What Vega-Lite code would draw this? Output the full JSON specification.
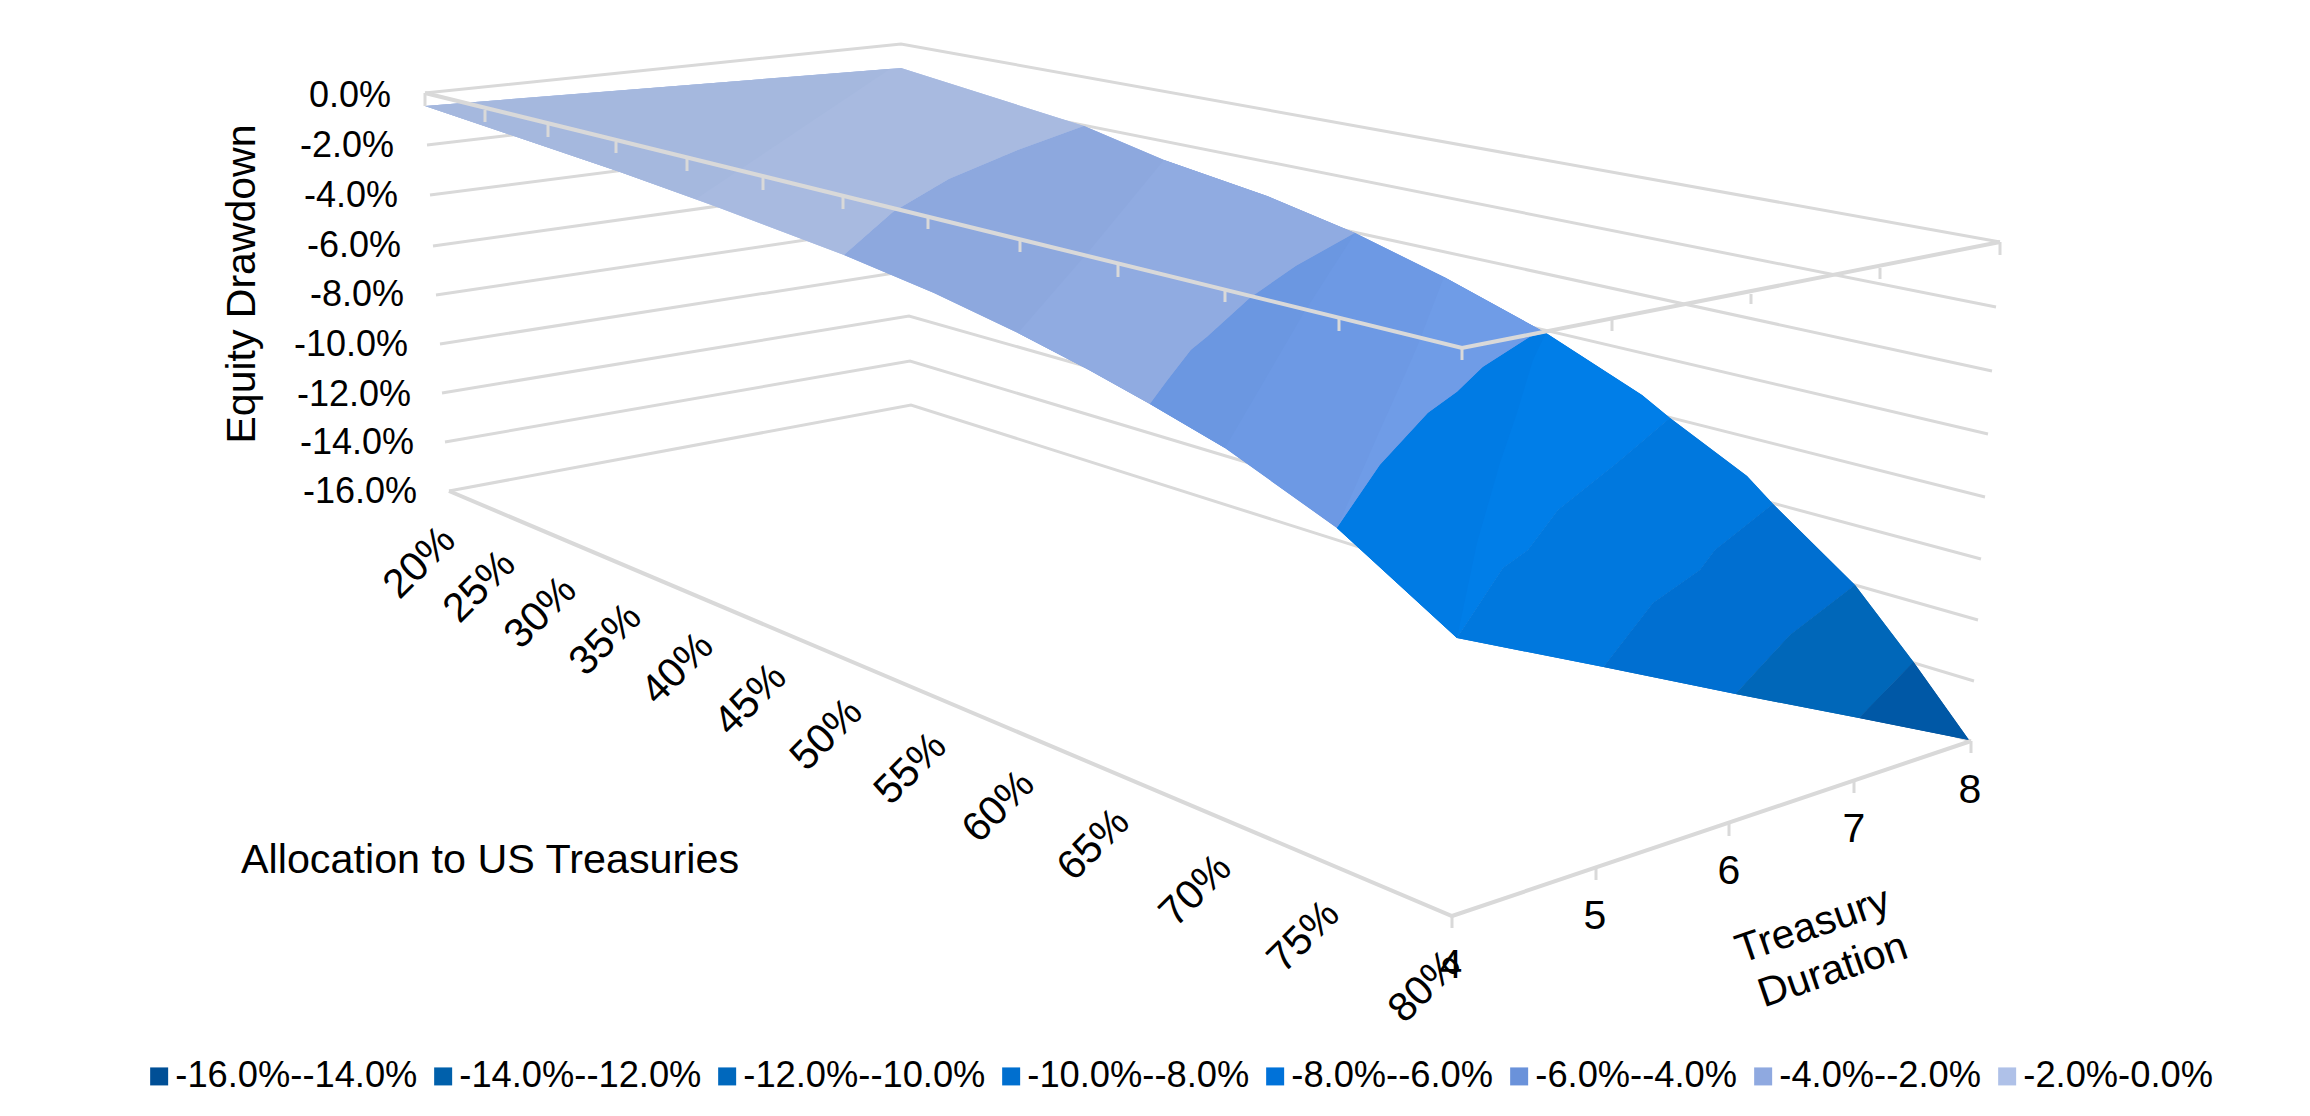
{
  "$schema": "https://vega.github.io/schema/vega-lite/v6.json",
  "width": 2310,
  "height": 1116,
  "padding": 0,
  "autosize": {"type": "none"},
  "background": "white",
  "config": {"view": {"stroke": null}, "font": "Liberation Sans"},
  "resolve": {"scale": {"fill": "independent"}},
  "datasets": {
    "walls": [
      {"level": "0", "i": 0, "x": 425, "y": 93}, {"level": "0", "i": 1, "x": 901, "y": 44}, {"level": "0", "i": 2, "x": 2000, "y": 242},
      {"level": "-2", "i": 0, "x": 427, "y": 145}, {"level": "-2", "i": 1, "x": 902, "y": 89}, {"level": "-2", "i": 2, "x": 1996, "y": 307},
      {"level": "-4", "i": 0, "x": 430, "y": 195}, {"level": "-4", "i": 1, "x": 903, "y": 134}, {"level": "-4", "i": 2, "x": 1992, "y": 371},
      {"level": "-6", "i": 0, "x": 433, "y": 246}, {"level": "-6", "i": 1, "x": 904, "y": 180}, {"level": "-6", "i": 2, "x": 1988, "y": 434},
      {"level": "-8", "i": 0, "x": 436, "y": 295}, {"level": "-8", "i": 1, "x": 906, "y": 225}, {"level": "-8", "i": 2, "x": 1985, "y": 497},
      {"level": "-10", "i": 0, "x": 440, "y": 344}, {"level": "-10", "i": 1, "x": 907, "y": 271}, {"level": "-10", "i": 2, "x": 1981, "y": 559},
      {"level": "-12", "i": 0, "x": 442, "y": 393}, {"level": "-12", "i": 1, "x": 909, "y": 316}, {"level": "-12", "i": 2, "x": 1978, "y": 620},
      {"level": "-14", "i": 0, "x": 445, "y": 442}, {"level": "-14", "i": 1, "x": 910, "y": 361}, {"level": "-14", "i": 2, "x": 1974, "y": 681},
      {"level": "-16", "i": 0, "x": 449, "y": 491}, {"level": "-16", "i": 1, "x": 911, "y": 405}, {"level": "-16", "i": 2, "x": 1971, "y": 741}
    ],
    "frame": [
      {"edge": "top", "i": 0, "x": 425, "y": 93}, {"edge": "top", "i": 1, "x": 1462, "y": 348}, {"edge": "top", "i": 2, "x": 2000, "y": 242},
      {"edge": "floor", "i": 0, "x": 449, "y": 491}, {"edge": "floor", "i": 1, "x": 1452, "y": 916}, {"edge": "floor", "i": 2, "x": 1971, "y": 741}
    ],
    "ticks": [
      {"x": 425, "y": 93, "y2": 106}, {"x": 485, "y": 110, "y2": 122}, {"x": 548, "y": 125, "y2": 137}, {"x": 616, "y": 142, "y2": 153},
      {"x": 687, "y": 158, "y2": 171}, {"x": 763, "y": 178, "y2": 190}, {"x": 843, "y": 197, "y2": 209}, {"x": 928, "y": 217, "y2": 229},
      {"x": 1020, "y": 240, "y2": 252}, {"x": 1118, "y": 264, "y2": 277}, {"x": 1225, "y": 291, "y2": 302}, {"x": 1339, "y": 319, "y2": 331},
      {"x": 1462, "y": 348, "y2": 360}, {"x": 1612, "y": 320, "y2": 331}, {"x": 1751, "y": 294, "y2": 304}, {"x": 1880, "y": 268, "y2": 279},
      {"x": 2000, "y": 242, "y2": 255}, {"x": 1452, "y": 916, "y2": 928}, {"x": 1596, "y": 869, "y2": 880}, {"x": 1729, "y": 823, "y2": 836},
      {"x": 1854, "y": 782, "y2": 793}, {"x": 1971, "y": 741, "y2": 753}
    ],
    "surface": [
      {"band": "-2.0%-0.0%", "i": 0, "x": 425, "y": 106}, {"band": "-2.0%-0.0%", "i": 1, "x": 901, "y": 68}, {"band": "-2.0%-0.0%", "i": 2, "x": 1084, "y": 126},
      {"band": "-2.0%-0.0%", "i": 3, "x": 1018, "y": 150}, {"band": "-2.0%-0.0%", "i": 4, "x": 949, "y": 179}, {"band": "-2.0%-0.0%", "i": 5, "x": 893, "y": 212},
      {"band": "-2.0%-0.0%", "i": 6, "x": 844, "y": 255}, {"band": "-2.0%-0.0%", "i": 7, "x": 717, "y": 207}, {"band": "-2.0%-0.0%", "i": 8, "x": 620, "y": 172},

      {"band": "-4.0%--2.0%", "i": 0, "x": 1084, "y": 126}, {"band": "-4.0%--2.0%", "i": 1, "x": 1164, "y": 160}, {"band": "-4.0%--2.0%", "i": 2, "x": 1267, "y": 196},
      {"band": "-4.0%--2.0%", "i": 3, "x": 1355, "y": 233}, {"band": "-4.0%--2.0%", "i": 4, "x": 1296, "y": 266}, {"band": "-4.0%--2.0%", "i": 5, "x": 1250, "y": 298},
      {"band": "-4.0%--2.0%", "i": 6, "x": 1207, "y": 337}, {"band": "-4.0%--2.0%", "i": 7, "x": 1191, "y": 350}, {"band": "-4.0%--2.0%", "i": 8, "x": 1167, "y": 381},
      {"band": "-4.0%--2.0%", "i": 9, "x": 1150, "y": 404}, {"band": "-4.0%--2.0%", "i": 10, "x": 1089, "y": 370}, {"band": "-4.0%--2.0%", "i": 11, "x": 1018, "y": 333},
      {"band": "-4.0%--2.0%", "i": 12, "x": 934, "y": 293}, {"band": "-4.0%--2.0%", "i": 13, "x": 844, "y": 255}, {"band": "-4.0%--2.0%", "i": 14, "x": 893, "y": 212},
      {"band": "-4.0%--2.0%", "i": 15, "x": 949, "y": 179}, {"band": "-4.0%--2.0%", "i": 16, "x": 1018, "y": 150},

      {"band": "-6.0%--4.0%", "i": 0, "x": 1355, "y": 233}, {"band": "-6.0%--4.0%", "i": 1, "x": 1444, "y": 277}, {"band": "-6.0%--4.0%", "i": 2, "x": 1546, "y": 333},
      {"band": "-6.0%--4.0%", "i": 3, "x": 1530, "y": 337}, {"band": "-6.0%--4.0%", "i": 4, "x": 1483, "y": 367}, {"band": "-6.0%--4.0%", "i": 5, "x": 1457, "y": 392},
      {"band": "-6.0%--4.0%", "i": 6, "x": 1428, "y": 413}, {"band": "-6.0%--4.0%", "i": 7, "x": 1380, "y": 465},
      {"band": "-6.0%--4.0%", "i": 8, "x": 1337, "y": 528}, {"band": "-6.0%--4.0%", "i": 9, "x": 1225, "y": 448}, {"band": "-6.0%--4.0%", "i": 10, "x": 1150, "y": 404},
      {"band": "-6.0%--4.0%", "i": 11, "x": 1167, "y": 381}, {"band": "-6.0%--4.0%", "i": 12, "x": 1191, "y": 350}, {"band": "-6.0%--4.0%", "i": 13, "x": 1207, "y": 337},
      {"band": "-6.0%--4.0%", "i": 14, "x": 1250, "y": 298}, {"band": "-6.0%--4.0%", "i": 15, "x": 1296, "y": 266},

      {"band": "-8.0%--6.0%", "i": 0, "x": 1530, "y": 337}, {"band": "-8.0%--6.0%", "i": 1, "x": 1546, "y": 333}, {"band": "-8.0%--6.0%", "i": 2, "x": 1642, "y": 395},
      {"band": "-8.0%--6.0%", "i": 3, "x": 1670, "y": 418}, {"band": "-8.0%--6.0%", "i": 4, "x": 1617, "y": 463}, {"band": "-8.0%--6.0%", "i": 5, "x": 1558, "y": 510},
      {"band": "-8.0%--6.0%", "i": 6, "x": 1528, "y": 550}, {"band": "-8.0%--6.0%", "i": 7, "x": 1503, "y": 568}, {"band": "-8.0%--6.0%", "i": 8, "x": 1457, "y": 638},
      {"band": "-8.0%--6.0%", "i": 9, "x": 1337, "y": 528}, {"band": "-8.0%--6.0%", "i": 10, "x": 1380, "y": 465}, {"band": "-8.0%--6.0%", "i": 11, "x": 1428, "y": 413},
      {"band": "-8.0%--6.0%", "i": 12, "x": 1457, "y": 392}, {"band": "-8.0%--6.0%", "i": 13, "x": 1483, "y": 367},

      {"band": "-10.0%--8.0%", "i": 0, "x": 1670, "y": 418}, {"band": "-10.0%--8.0%", "i": 1, "x": 1747, "y": 476}, {"band": "-10.0%--8.0%", "i": 2, "x": 1773, "y": 504},
      {"band": "-10.0%--8.0%", "i": 3, "x": 1715, "y": 550}, {"band": "-10.0%--8.0%", "i": 4, "x": 1700, "y": 570}, {"band": "-10.0%--8.0%", "i": 5, "x": 1653, "y": 603},
      {"band": "-10.0%--8.0%", "i": 6, "x": 1603.5, "y": 667}, {"band": "-10.0%--8.0%", "i": 7, "x": 1457, "y": 638}, {"band": "-10.0%--8.0%", "i": 8, "x": 1503, "y": 568},
      {"band": "-10.0%--8.0%", "i": 9, "x": 1528, "y": 550}, {"band": "-10.0%--8.0%", "i": 10, "x": 1558, "y": 510}, {"band": "-10.0%--8.0%", "i": 11, "x": 1617, "y": 463},

      {"band": "-12.0%--10.0%", "i": 0, "x": 1773, "y": 504}, {"band": "-12.0%--10.0%", "i": 1, "x": 1855, "y": 585}, {"band": "-12.0%--10.0%", "i": 2, "x": 1790, "y": 635},
      {"band": "-12.0%--10.0%", "i": 3, "x": 1735.5, "y": 694}, {"band": "-12.0%--10.0%", "i": 4, "x": 1603.5, "y": 667}, {"band": "-12.0%--10.0%", "i": 5, "x": 1653, "y": 603},
      {"band": "-12.0%--10.0%", "i": 6, "x": 1700, "y": 570}, {"band": "-12.0%--10.0%", "i": 7, "x": 1715, "y": 550},

      {"band": "-14.0%--12.0%", "i": 0, "x": 1855, "y": 585}, {"band": "-14.0%--12.0%", "i": 1, "x": 1913.5, "y": 662}, {"band": "-14.0%--12.0%", "i": 2, "x": 1859, "y": 718},
      {"band": "-14.0%--12.0%", "i": 3, "x": 1735.5, "y": 694}, {"band": "-14.0%--12.0%", "i": 4, "x": 1790, "y": 635},

      {"band": "-16.0%--14.0%", "i": 0, "x": 1913.5, "y": 662}, {"band": "-16.0%--14.0%", "i": 1, "x": 1969, "y": 740}, {"band": "-16.0%--14.0%", "i": 2, "x": 1859, "y": 718}
    ],
    "facets": [
      {"facet": "a", "i": 0, "x": 425, "y": 106}, {"facet": "a", "i": 1, "x": 890, "y": 69}, {"facet": "a", "i": 2, "x": 696, "y": 199}, {"facet": "a", "i": 3, "x": 620, "y": 172},

      {"facet": "b", "i": 0, "x": 1164, "y": 160}, {"facet": "b", "i": 1, "x": 1267, "y": 196}, {"facet": "b", "i": 2, "x": 1355, "y": 233}, {"facet": "b", "i": 3, "x": 1296, "y": 266},
      {"facet": "b", "i": 4, "x": 1250, "y": 298}, {"facet": "b", "i": 5, "x": 1207, "y": 337}, {"facet": "b", "i": 6, "x": 1191, "y": 350}, {"facet": "b", "i": 7, "x": 1167, "y": 381},
      {"facet": "b", "i": 8, "x": 1150, "y": 404}, {"facet": "b", "i": 9, "x": 1089, "y": 370}, {"facet": "b", "i": 10, "x": 1018, "y": 333}, {"facet": "b", "i": 11, "x": 1090, "y": 250},

      {"facet": "c", "i": 0, "x": 1355, "y": 233}, {"facet": "c", "i": 1, "x": 1296, "y": 266}, {"facet": "c", "i": 2, "x": 1250, "y": 298}, {"facet": "c", "i": 3, "x": 1207, "y": 337},
      {"facet": "c", "i": 4, "x": 1191, "y": 350}, {"facet": "c", "i": 5, "x": 1167, "y": 381}, {"facet": "c", "i": 6, "x": 1150, "y": 404}, {"facet": "c", "i": 7, "x": 1225, "y": 448}, {"facet": "c", "i": 8, "x": 1305, "y": 311},

      {"facet": "d", "i": 0, "x": 1444, "y": 277}, {"facet": "d", "i": 1, "x": 1546, "y": 333}, {"facet": "d", "i": 2, "x": 1530, "y": 337}, {"facet": "d", "i": 3, "x": 1483, "y": 367},
      {"facet": "d", "i": 4, "x": 1457, "y": 392}, {"facet": "d", "i": 5, "x": 1428, "y": 413}, {"facet": "d", "i": 6, "x": 1380, "y": 465}, {"facet": "d", "i": 7, "x": 1337, "y": 528},
      {"facet": "d", "i": 8, "x": 1377, "y": 437}, {"facet": "d", "i": 9, "x": 1407, "y": 370}, {"facet": "d", "i": 10, "x": 1417, "y": 347},

      {"facet": "e", "i": 0, "x": 1530, "y": 337}, {"facet": "e", "i": 1, "x": 1546, "y": 333}, {"facet": "e", "i": 2, "x": 1533, "y": 360}, {"facet": "e", "i": 3, "x": 1517, "y": 413},
      {"facet": "e", "i": 4, "x": 1500, "y": 463}, {"facet": "e", "i": 5, "x": 1477, "y": 543}, {"facet": "e", "i": 6, "x": 1457, "y": 638}, {"facet": "e", "i": 7, "x": 1337, "y": 528},
      {"facet": "e", "i": 8, "x": 1380, "y": 465}, {"facet": "e", "i": 9, "x": 1428, "y": 413}, {"facet": "e", "i": 10, "x": 1457, "y": 392}, {"facet": "e", "i": 11, "x": 1483, "y": 367}
    ],
    "valueLabels": [
      {"label": "0.0%", "x": 391, "y": 96}, {"label": "-2.0%", "x": 394, "y": 146}, {"label": "-4.0%", "x": 398, "y": 196},
      {"label": "-6.0%", "x": 401, "y": 246}, {"label": "-8.0%", "x": 404, "y": 295}, {"label": "-10.0%", "x": 408, "y": 345},
      {"label": "-12.0%", "x": 411, "y": 395}, {"label": "-14.0%", "x": 414, "y": 443}, {"label": "-16.0%", "x": 417, "y": 492}
    ],
    "allocationLabels": [
      {"label": "20%", "x": 420, "y": 563}, {"label": "25%", "x": 480, "y": 587}, {"label": "30%", "x": 541, "y": 613}, {"label": "35%", "x": 606, "y": 640},
      {"label": "40%", "x": 678, "y": 669}, {"label": "45%", "x": 751, "y": 700}, {"label": "50%", "x": 827, "y": 735}, {"label": "55%", "x": 911, "y": 769},
      {"label": "60%", "x": 999, "y": 807}, {"label": "65%", "x": 1094, "y": 845}, {"label": "70%", "x": 1196, "y": 891}, {"label": "75%", "x": 1304, "y": 937},
      {"label": "80%", "x": 1425, "y": 987}
    ],
    "durationLabels": [
      {"label": "4", "x": 1451, "y": 966}, {"label": "5", "x": 1595, "y": 917}, {"label": "6", "x": 1729, "y": 872}, {"label": "7", "x": 1854, "y": 830}, {"label": "8", "x": 1970, "y": 791}
    ]
  },
  "layer": [
    {
      "data": {"name": "walls"},
      "mark": {"type": "line", "stroke": "#d9d9d9", "strokeWidth": 3},
      "encoding": {
        "x": {"field": "x", "type": "quantitative", "axis": null, "scale": {"domain": [0, 2310], "nice": false, "zero": false}},
        "y": {"field": "y", "type": "quantitative", "axis": null, "scale": {"domain": [1116, 0], "nice": false, "zero": false}},
        "detail": {"field": "level"},
        "order": {"field": "i"}
      }
    },
    {
      "data": {"name": "surface"},
      "mark": {"type": "line", "strokeWidth": 0},
      "encoding": {
        "x": {"field": "x", "type": "quantitative"},
        "y": {"field": "y", "type": "quantitative"},
        "order": {"field": "i"},
        "fill": {
          "field": "band",
          "type": "nominal",
          "scale": {
            "domain": ["-16.0%--14.0%", "-14.0%--12.0%", "-12.0%--10.0%", "-10.0%--8.0%", "-8.0%--6.0%", "-6.0%--4.0%", "-4.0%--2.0%", "-2.0%-0.0%"],
            "range": ["#004f96", "#0060ab", "#0068bd", "#006fcf", "#0072d9", "#6a92da", "#8fa9e0", "#afc1e8"]
          },
          "legend": {
            "title": null,
            "orient": "none",
            "legendX": 141,
            "legendY": 1058,
            "direction": "horizontal",
            "columns": 8,
            "symbolType": "square",
            "symbolSize": 324,
            "symbolStrokeWidth": 0,
            "labelFontSize": 36.3,
            "labelFont": "Liberation Sans",
            "labelColor": "#000000",
            "labelOffset": -2,
            "labelLimit": 400,
            "columnPadding": 7,
            "gridAlign": "each"
          }
        }
      }
    },
    {
      "data": {"name": "surface"},
      "mark": {"type": "line", "strokeWidth": 0},
      "encoding": {
        "x": {"field": "x", "type": "quantitative"},
        "y": {"field": "y", "type": "quantitative"},
        "order": {"field": "i"},
        "fill": {
          "field": "band",
          "type": "nominal",
          "legend": null,
          "scale": {
            "domain": ["-16.0%--14.0%", "-14.0%--12.0%", "-12.0%--10.0%", "-10.0%--8.0%", "-8.0%--6.0%", "-6.0%--4.0%", "-4.0%--2.0%", "-2.0%-0.0%"],
            "range": ["#0058a6", "#0067b9", "#006fd1", "#0078de", "#007ee8", "#6d99e4", "#8da8de", "#a8bae0"]
          }
        }
      }
    },
    {
      "data": {"name": "facets"},
      "mark": {"type": "line", "strokeWidth": 0},
      "encoding": {
        "x": {"field": "x", "type": "quantitative"},
        "y": {"field": "y", "type": "quantitative"},
        "order": {"field": "i"},
        "fill": {
          "field": "facet",
          "type": "nominal",
          "legend": null,
          "scale": {
            "domain": ["a", "b", "c", "d", "e"],
            "range": ["#a5b8de", "#90abe1", "#6b97e1", "#6f9ce7", "#007be4"]
          }
        }
      }
    },
    {
      "data": {"name": "frame"},
      "mark": {"type": "line", "stroke": "#d9d9d9", "strokeWidth": 4},
      "encoding": {
        "x": {"field": "x", "type": "quantitative"},
        "y": {"field": "y", "type": "quantitative"},
        "detail": {"field": "edge"},
        "order": {"field": "i"}
      }
    },
    {
      "data": {"name": "ticks"},
      "mark": {"type": "rule", "stroke": "#d9d9d9", "strokeWidth": 3},
      "encoding": {
        "x": {"field": "x", "type": "quantitative"},
        "y": {"field": "y", "type": "quantitative"},
        "y2": {"field": "y2"}
      }
    },
    {
      "data": {"name": "valueLabels"},
      "mark": {"type": "text", "fontSize": 36, "align": "right", "baseline": "middle", "color": "#000000"},
      "encoding": {
        "x": {"field": "x", "type": "quantitative"},
        "y": {"field": "y", "type": "quantitative"},
        "text": {"field": "label"}
      }
    },
    {
      "data": {"name": "allocationLabels"},
      "mark": {"type": "text", "fontSize": 41, "angle": 315, "align": "center", "baseline": "middle", "color": "#000000"},
      "encoding": {
        "x": {"field": "x", "type": "quantitative"},
        "y": {"field": "y", "type": "quantitative"},
        "text": {"field": "label"}
      }
    },
    {
      "data": {"name": "durationLabels"},
      "mark": {"type": "text", "fontSize": 41, "align": "center", "baseline": "middle", "color": "#000000"},
      "encoding": {
        "x": {"field": "x", "type": "quantitative"},
        "y": {"field": "y", "type": "quantitative"},
        "text": {"field": "label"}
      }
    },
    {
      "data": {"values": [{"label": "Equity Drawdown", "x": 243, "y": 284}]},
      "mark": {"type": "text", "fontSize": 41, "angle": 270, "align": "center", "baseline": "middle", "color": "#000000"},
      "encoding": {
        "x": {"field": "x", "type": "quantitative"},
        "y": {"field": "y", "type": "quantitative"},
        "text": {"field": "label"}
      }
    },
    {
      "data": {"values": [{"label": "Allocation to US Treasuries", "x": 241, "y": 861}]},
      "mark": {"type": "text", "fontSize": 41.3, "align": "left", "baseline": "middle", "color": "#000000"},
      "encoding": {
        "x": {"field": "x", "type": "quantitative"},
        "y": {"field": "y", "type": "quantitative"},
        "text": {"field": "label"}
      }
    },
    {
      "data": {"values": [{"label": "Treasury", "x": 1813, "y": 926}, {"label": "Duration", "x": 1833, "y": 971}]},
      "mark": {"type": "text", "fontSize": 41, "angle": 341, "align": "center", "baseline": "middle", "color": "#000000"},
      "encoding": {
        "x": {"field": "x", "type": "quantitative"},
        "y": {"field": "y", "type": "quantitative"},
        "text": {"field": "label"}
      }
    }
  ]
}
